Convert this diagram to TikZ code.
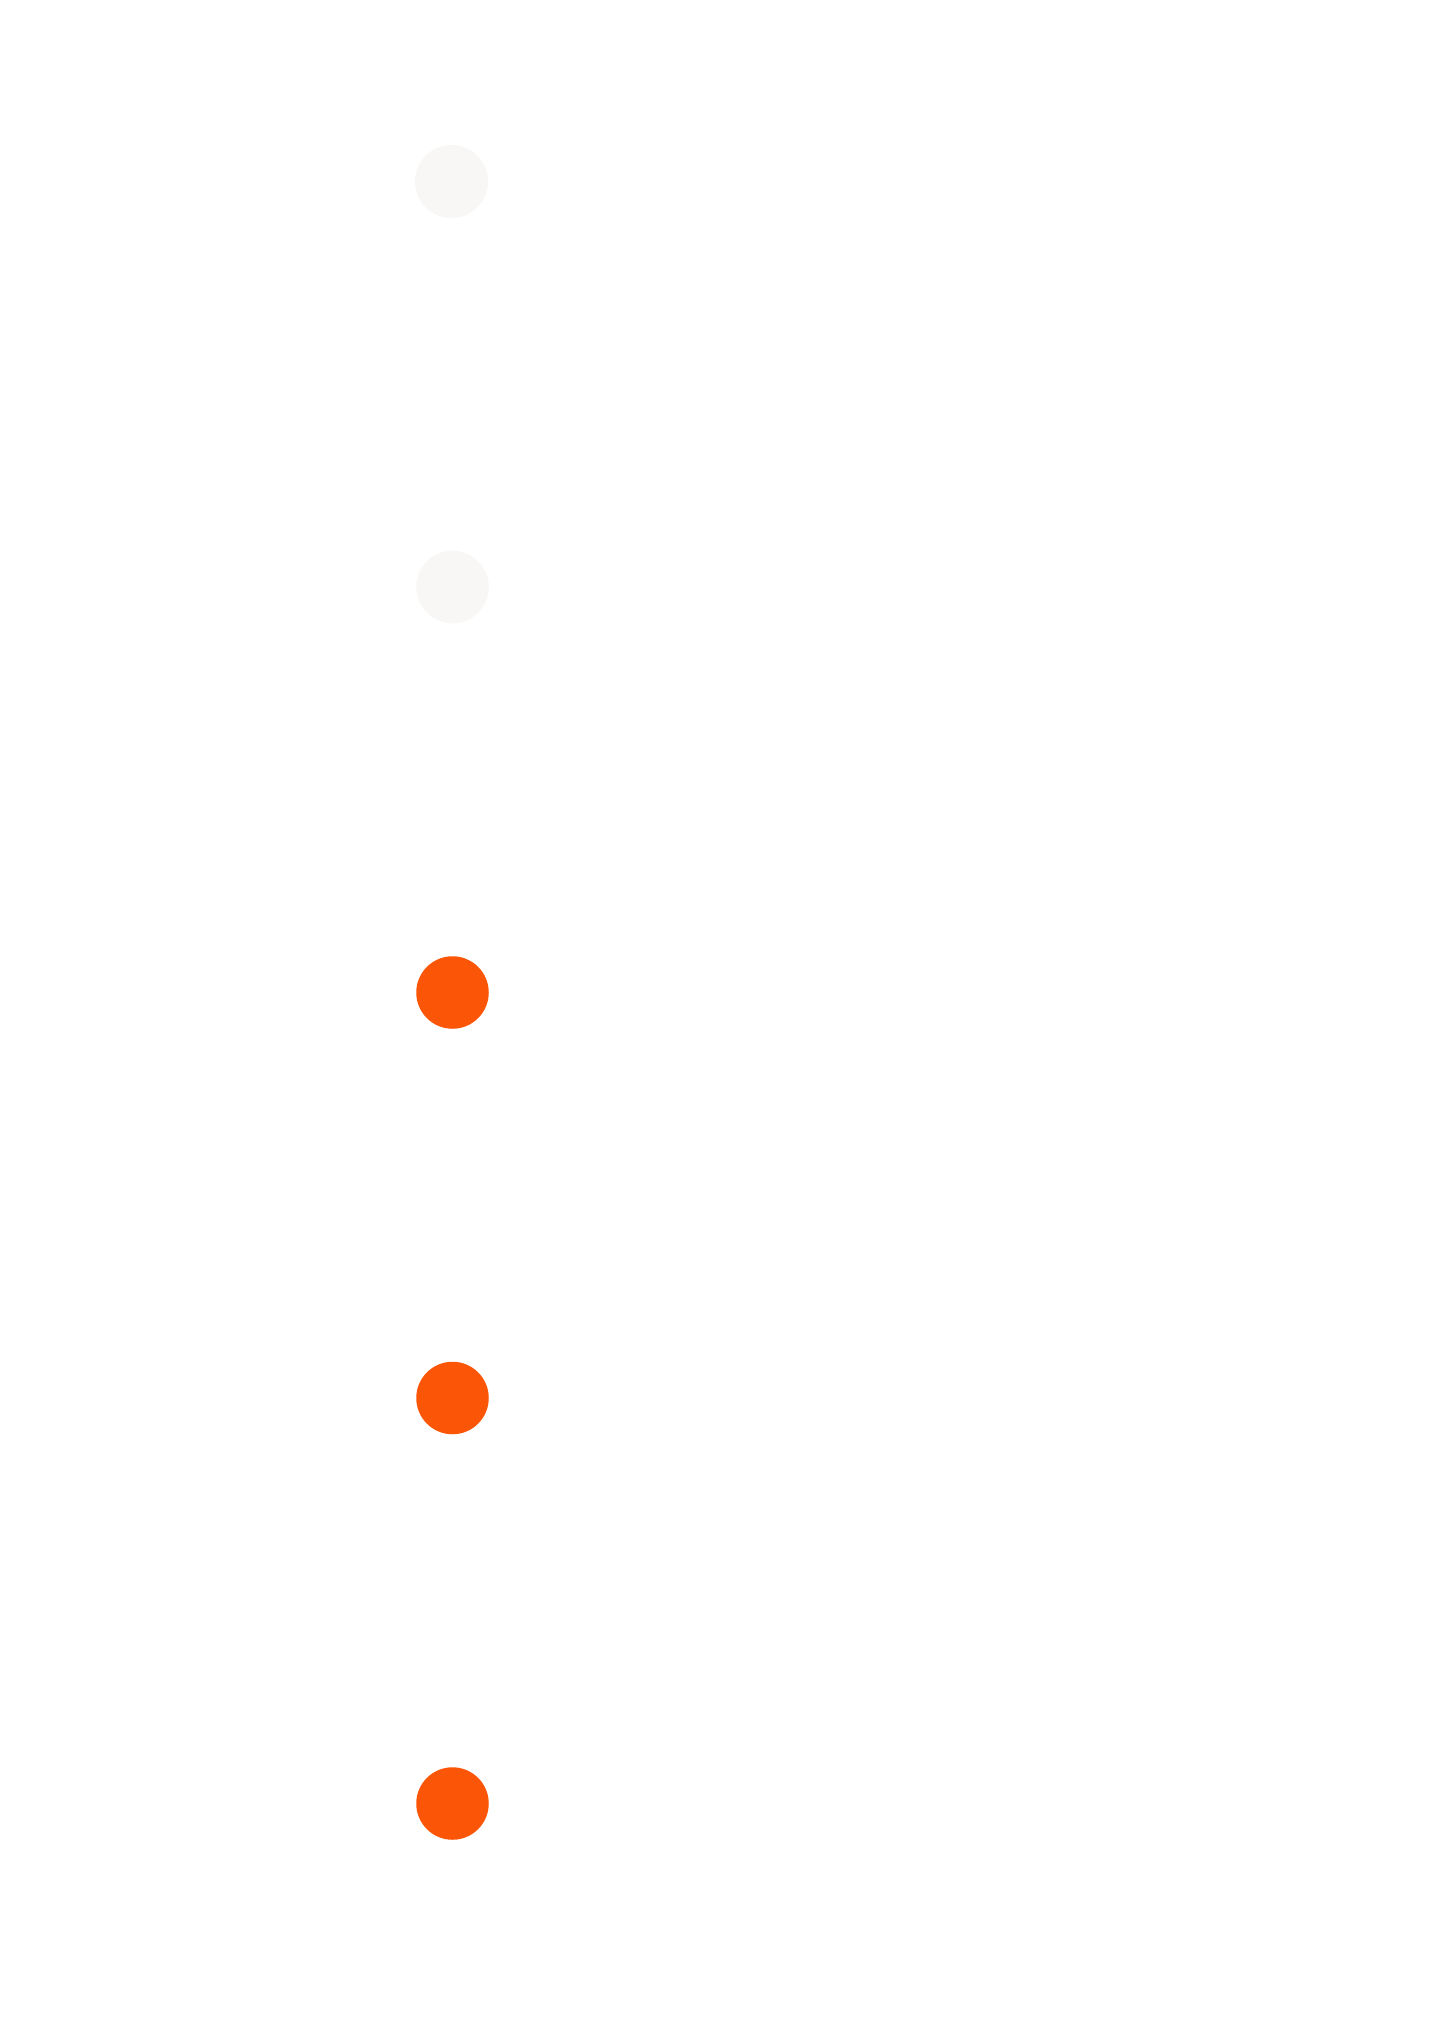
\documentclass[tikz,border=0pt]{standalone}
\definecolor{dotlight}{RGB}{248,247,245}
\definecolor{dotorange}{RGB}{251,86,7}
\begin{document}
\begin{tikzpicture}[x=1pt,y=-1pt,
  dot/.style={circle,inner sep=0pt,minimum size=72.5pt,draw=none},
  dotoff/.style={dot,fill=dotlight},
  doton/.style={dot,fill=dotorange}]
\fill[white] (0,0) rectangle (1440,2037);
\useasboundingbox (0,0) rectangle (1440,2037);
\node[dotoff,minimum size=73pt] (c1) at (451.5,181.5) {};
\node[dotoff] (c2) at (452.5,587) {};
\node[doton] (c3) at (452.5,992.5) {};
\node[doton] (c4) at (452.5,1398) {};
\node[doton] (c5) at (452.5,1803.5) {};
\end{tikzpicture}
\end{document}
